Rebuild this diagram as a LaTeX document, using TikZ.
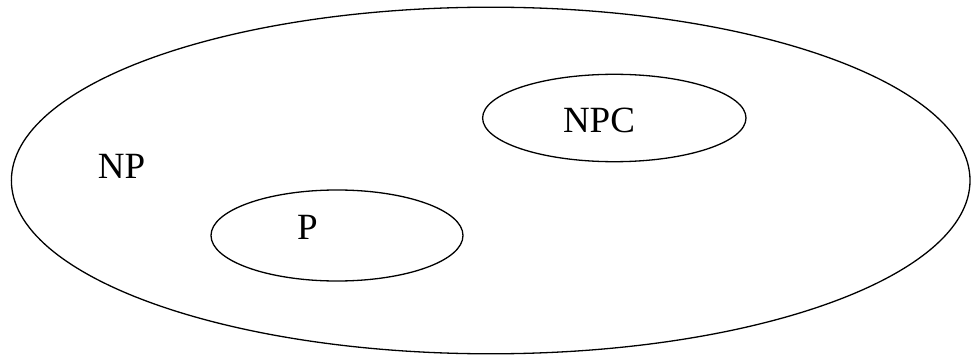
\documentclass[tikz,border=0pt]{standalone}
\usepackage{fontspec}
\setmainfont{Liberation Serif}
\begin{document}
\begin{tikzpicture}[x=1pt,y=-1pt,
  setline/.style={draw=black,line width=1.3pt},
  setlabel/.style={font=\fontsize{37}{40}\selectfont,inner sep=0pt,anchor=center}]
\useasboundingbox (0,0) rectangle (971,358);
% class NP
\draw[setline] (490.7,180.5) ellipse [x radius=479.3, y radius=173.3];
% class NPC
\draw[setline] (614.3,118) ellipse [x radius=131.7, y radius=43.7];
% class P
\draw[setline] (337,235.5) ellipse [x radius=126, y radius=45.5];
\node[setlabel] (np) at (121.5,166.5) {NP};
\node[setlabel] (npc) at (599,120) {NPC};
\node[setlabel] (p) at (307.5,227.5) {P};
\end{tikzpicture}
\end{document}
